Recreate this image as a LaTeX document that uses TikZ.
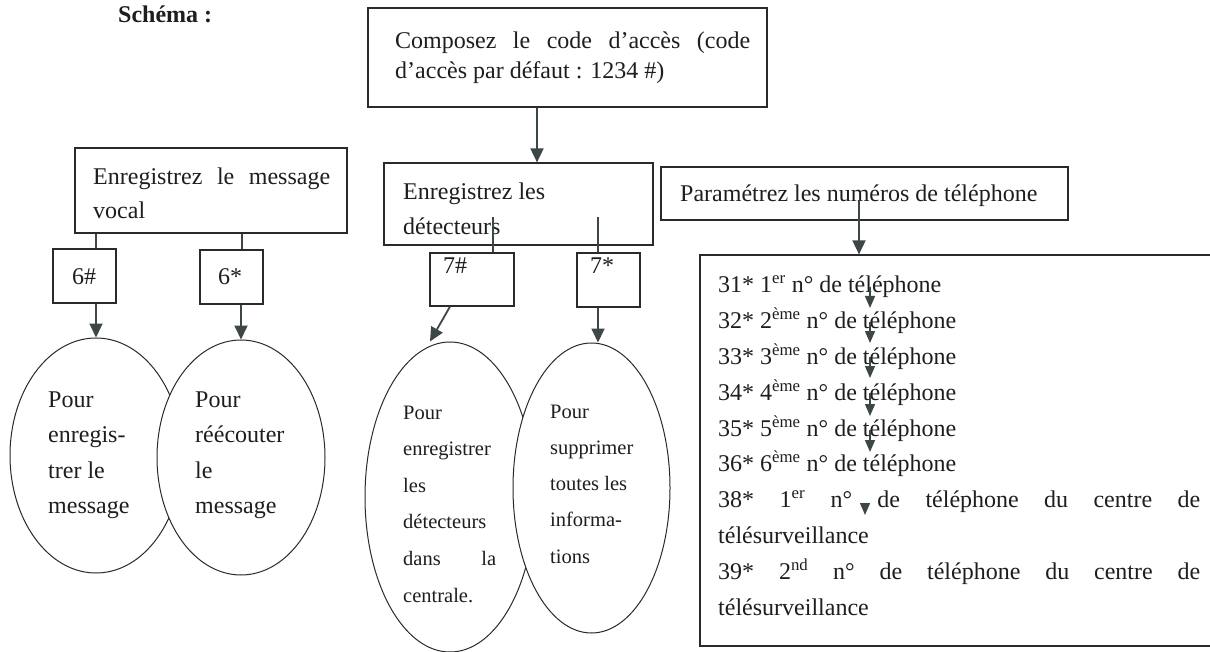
\documentclass[tikz,border=0pt]{standalone}
\usepackage{fontspec}
\setmainfont{Liberation Serif}
\usetikzlibrary{shapes.geometric,arrows.meta}
\definecolor{arrc}{HTML}{3E4747}
\definecolor{linec}{HTML}{2A2A2A}
\definecolor{ink}{HTML}{1E1E1E}
\newcommand{\pbx}[2]{\parbox[t]{#1}{\raggedright #2}}
\begin{document}
\begin{tikzpicture}[x=1pt,y=-1pt,
  every node/.style={inner sep=0pt, text=ink},
  frame/.style={draw=linec, line width=1.2pt, rectangle},
  ovale/.style={draw=linec, line width=1pt, fill=white, ellipse},
  conn/.style={draw=arrc, line width=1.8pt},
  arr/.style={conn, -{Triangle[width=13pt,length=14pt]}},
  arrs/.style={conn, line width=1.4pt, -{Triangle[width=10pt,length=12pt]}},
  txt/.style={anchor=base west, font=\fontsize{24}{30}\selectfont},
]
\useasboundingbox (0,0) rectangle (1210,652);
\fill[white] (0,0) rectangle (1210,652);

% title
\node[txt, font=\fontsize{24}{30}\selectfont\bfseries] (title) at (118,23) {Schéma :};

% boxes
\node[frame, minimum width=399pt, minimum height=99pt] (top) at (567.5,57.5) {};
\node[frame, minimum width=272pt, minimum height=85pt] (lb) at (211,190.5) {};
\node[frame, minimum width=269pt, minimum height=82pt] (mb) at (518.5,204) {};
\node[frame, minimum width=407pt, minimum height=53pt] (pb) at (864.5,193.5) {};
\node[frame, minimum width=540pt, minimum height=391pt] (lst) at (970,450.5) {};
\node[frame, minimum width=63pt, minimum height=54pt] (b6h) at (84.5,276) {};
\node[frame, minimum width=63pt, minimum height=54pt] (b6s) at (231.5,277) {};
\node[frame, minimum width=84pt, minimum height=53pt] (b7h) at (472,279.5) {};
\node[frame, minimum width=63pt, minimum height=54pt] (b7s) at (608.5,280) {};

% ellipses
\node[ovale, minimum width=172pt, minimum height=235pt] (e1) at (96,455.5) {};
\node[ovale, minimum width=168pt, minimum height=235pt] (e2) at (241,457.5) {};
\node[ovale, minimum width=170pt, minimum height=310pt] (em1) at (450,497) {};
\node[ovale, minimum width=157pt, minimum height=290pt] (em2) at (591.5,488) {};

% texts
\node[txt] (ttop) at (395,49) {\pbx{360pt}{\makebox[355pt][s]{Composez le code d’accès (code}\\d’accès par défaut : 1234 \#)}};
\node[txt, font=\fontsize{24}{34}\selectfont] (tlb) at (93,185) {\pbx{240pt}{\makebox[237pt][s]{Enregistrez le message}\\vocal}};
\node[txt, font=\fontsize{24}{35}\selectfont] (tmb) at (403,200) {\pbx{240pt}{Enregistrez les\\détecteurs}};
\node[txt] (tpb) at (680,202) {Paramétrez les numéros de téléphone};
\node[txt] (t6h) at (72,285) {6\#};
\node[txt] (t6s) at (218,285) {6*};
\node[txt] (t7h) at (443,274) {7\#};
\node[txt] (t7s) at (590,274) {7*};

\node[txt, font=\fontsize{24}{35.8}\selectfont] (tlst) at (718,293) {\pbx{490pt}{%
31* 1\textsuperscript{er} n° de téléphone\\
32* 2\textsuperscript{ème} n° de téléphone\\
33* 3\textsuperscript{ème} n° de téléphone\\
34* 4\textsuperscript{ème} n° de téléphone\\
35* 5\textsuperscript{ème} n° de téléphone\\
36* 6\textsuperscript{ème} n° de téléphone\\
\makebox[482pt][s]{38* 1\textsuperscript{er} n° de téléphone du centre de}\\
télésurveillance\\
\makebox[482pt][s]{39* 2\textsuperscript{nd} n° de téléphone du centre de}\\
télésurveillance}};

\node[txt, font=\fontsize{24}{35.5}\selectfont] (te1) at (48,407) {\pbx{110pt}{Pour\\enregis-\\trer le\\message}};
\node[txt, font=\fontsize{24}{35.5}\selectfont] (te2) at (195,407) {\pbx{110pt}{Pour\\réécouter\\le\\message}};
\node[txt, font=\fontsize{20.5}{36.6}\selectfont] (tem1) at (403,419) {\pbx{100pt}{Pour\\enregistrer\\les\\détecteurs\\\makebox[93pt][s]{dans la}\\centrale.}};
\node[txt, font=\fontsize{20.5}{36.3}\selectfont] (tem2) at (550,418) {\pbx{100pt}{Pour\\supprimer\\toutes les\\informa-\\tions}};

% connectors
\draw[arr] ([xshift=-30.5pt]top.south) -- ([xshift=18.5pt]mb.north);
\draw[conn, line width=1.5pt] (lb.south -| 96,0) -- (b6h.north -| 96,0);
\draw[conn, line width=1.5pt] (lb.south -| 242,0) -- (b6s.north -| 242,0);
\draw[arr] (b6h.south -| 96,0) -- (e1.north);
\draw[arr] (b6s.south -| 241,0) -- (e2.north);
\coordinate (m1) at (493,217);
\coordinate (m2) at (598,217);
\draw[conn, line width=1.5pt] (m1) -- (b7h.north -| m1);
\draw[conn, line width=1.5pt] (m2) -- (b7s.north -| m2);
\draw[arr] (b7h.south -| 450,0) -- ([xshift=-20pt]em1.north);
\draw[arr] (b7s.south -| 598,0) -- (em2.north -| 598,0);
\coordinate (p1) at (859,200);
\draw[arr] (p1) -- (lst.north -| p1);

% small arrows inside the list
\foreach \i/\xa/\ya/\yb in {1/870/287/308, 2/870/322/343, 3/870/357/378, 4/870/393/416, 5/870/430/452, 6/865/503/515} {
  \coordinate (s\i) at (\xa,\ya);
  \coordinate (f\i) at (\xa,\yb);
  \draw[arrs] (s\i) -- (f\i);
}
\end{tikzpicture}
\end{document}
